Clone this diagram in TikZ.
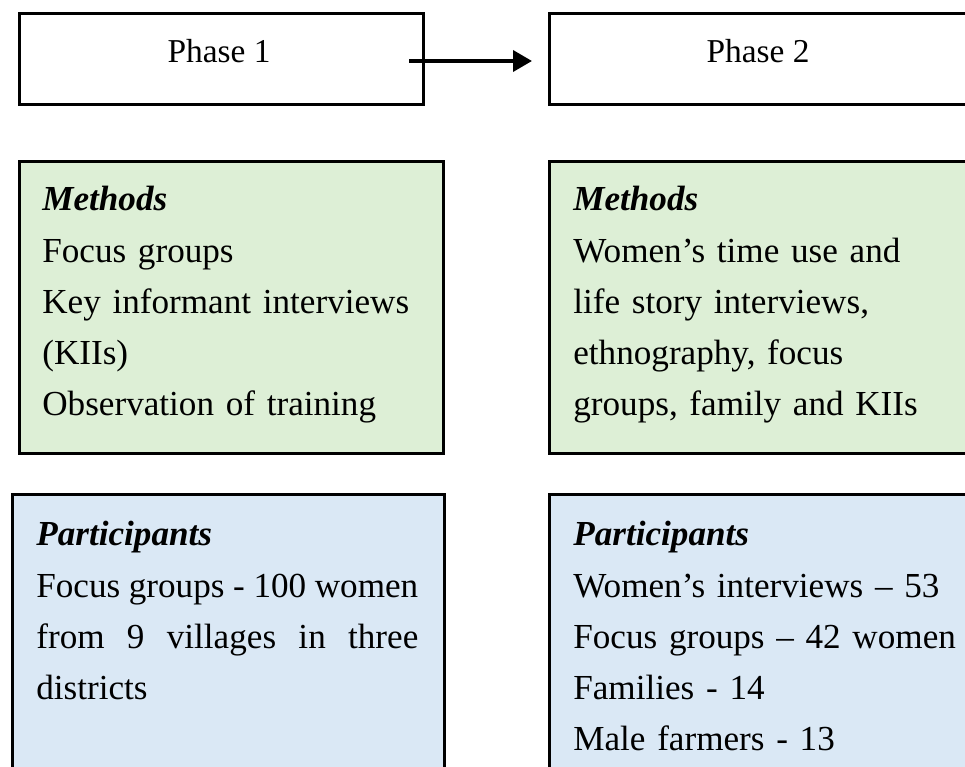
\documentclass[tikz,border=0pt]{standalone}
\usepackage{fontspec}
\setmainfont{Liberation Serif}
\usetikzlibrary{arrows.meta}
\definecolor{methgreen}{HTML}{DDEFD6}
\definecolor{partblue}{HTML}{DAE8F5}
\begin{document}
\begin{tikzpicture}[x=0.02cm, y=-0.02cm,
	box/.style={draw=black, line width=1.6pt, anchor=north west, inner sep=0pt},
	phasebox/.style={box, fill=white, minimum height=91*0.02cm},
	methbox/.style={box, fill=methgreen, minimum height=292*0.02cm},
	partbox/.style={box, fill=partblue, minimum height=300*0.02cm},
	txt/.style={anchor=north west, inner sep=0pt, align=left, text width=420*0.02cm,
		font=\fontsize{20}{29.2}\selectfont},
	arr/.style={line width=2.1pt, -{Triangle[length=0.38cm, width=0.42cm]}}]
	
	\useasboundingbox (0,0) rectangle (965,767);
	\clip (0,0) rectangle (965,767);
	
	% Phase boxes
	\node[phasebox, minimum width=404*0.02cm] (ph1) at (18,12) {};
	\node[phasebox, minimum width=420*0.02cm] (ph2) at (548,12) {};
	\node[font=\fontsize{19}{29.2}\selectfont] (ph1txt) at (219,51) {Phase 1};
	\node[font=\fontsize{19}{29.2}\selectfont] (ph2txt) at (758,51) {Phase 2};
	
	% Arrow between phases
	\coordinate (arrstart) at (409,61);
	\draw[arr, shorten >=0.32cm] (arrstart) -- (arrstart -| ph2.west);
	
	% Methods boxes
	\node[methbox, minimum width=424*0.02cm] (meth1) at (18,160) {};
	\node[methbox, minimum width=420*0.02cm] (meth2) at (548,160) {};
	\node[txt] (meth1txt) at (42,186) {\textbf{\textit{Methods}}\\Focus groups\\Key informant interviews\\(KIIs)\\Observation of training};
	\node[txt] (meth2txt) at (573,186) {\textbf{\textit{Methods}}\\Women's time use and\\life story interviews,\\ethnography, focus\\groups, family and KIIs};
	
	% Participants boxes
	\node[partbox, minimum width=432*0.02cm] (part1) at (11,493) {};
	\node[partbox, minimum width=420*0.02cm] (part2) at (548,493) {};
	\node[txt, align=justify, text width=382*0.02cm] (part1txt) at (36,521) {\textbf{\textit{Participants}}\\Focus groups - 100 women\linebreak from 9 villages in three\linebreak districts};
	\node[txt] (part2txt) at (573,521) {\textbf{\textit{Participants}}\\Women's interviews -- 53\\Focus groups -- 42 women\\Families - 14\\Male farmers - 13};
	
\end{tikzpicture}
\end{document}
